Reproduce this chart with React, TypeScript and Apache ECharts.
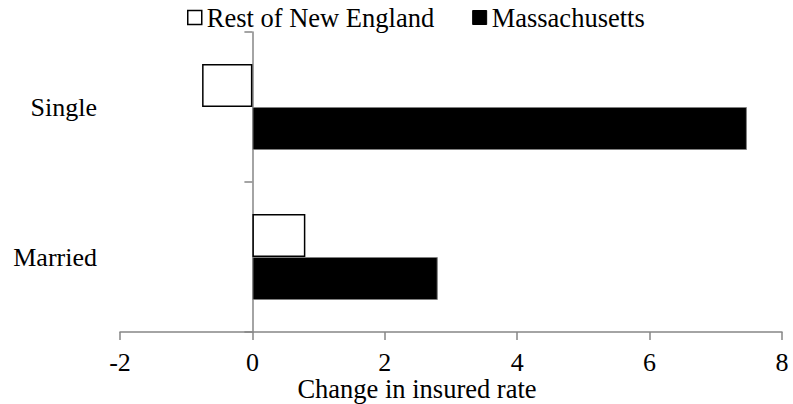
import React, { useEffect, useRef } from "react";
import * as echarts from "echarts";

const categories = ["Married", "Single"];
const restOfNewEngland = [0.8, -0.76];
const massachusetts = [2.8, 7.47];
const xTicks = { min: -2, max: 8, interval: 2 };
const xAxisTitle = "Change in insured rate";
const seriesNames = ["Rest of New England", "Massachusetts"];

const FONT = "Liberation Serif, DejaVu Serif, serif";
const AXIS_GRAY = "#868686";

export default function App() {
  const ref = useRef<HTMLDivElement>(null);
  useEffect(() => {
    document.body.style.margin = "0";
    const chart = echarts.init(ref.current!, null, { renderer: "svg" });
    chart.setOption({
      animation: false,
      backgroundColor: "#ffffff",
      textStyle: { fontFamily: FONT, color: "#000" },
      legend: {
        data: [
          { name: seriesNames[0], itemStyle: { color: "#fff", borderColor: "#000", borderWidth: 1.5 } },
          { name: seriesNames[1], itemStyle: { color: "#000", borderColor: "#000", borderWidth: 1 } },
        ],
        icon: "rect",
        left: 187,
        top: 4,
        padding: 0,
        itemWidth: 14,
        itemHeight: 14,
        itemGap: 38,
        textStyle: { fontFamily: FONT, fontSize: 26.5, color: "#000" },
      },
      grid: {
        left: 120,
        right: 11,
        top: 32,
        bottom: 72,
        containLabel: false,
        outerBoundsMode: "none",
      },
      xAxis: {
        type: "value",
        min: xTicks.min,
        max: xTicks.max,
        interval: xTicks.interval,
        axisLine: { show: true, lineStyle: { color: AXIS_GRAY, width: 1.5 } },
        axisTick: { show: true, length: 8, lineStyle: { color: AXIS_GRAY, width: 1.5 } },
        splitLine: { show: false },
        axisLabel: {
          fontFamily: FONT,
          fontSize: 26,
          lineHeight: 18,
          color: "#000",
          margin: 21,
        },
      },
      yAxis: {
        type: "category",
        data: categories,
        axisLine: { show: true, onZero: true, lineStyle: { color: AXIS_GRAY, width: 1.5 } },
        axisTick: { show: true, length: 8, lineStyle: { color: AXIS_GRAY, width: 1.5 } },
        axisLabel: { fontFamily: FONT, fontSize: 26, color: "#000", margin: 23 },
        splitLine: { show: false },
      },
      graphic: [
        {
          type: "text",
          x: 417,
          y: 389,
          style: {
            text: xAxisTitle,
            fontFamily: FONT,
            fontSize: 26.5,
            lineHeight: 22,
            fill: "#000",
            textAlign: "center",
            textVerticalAlign: "middle",
          },
        },
      ],
      series: [
        {
          name: seriesNames[0],
          type: "bar",
          data: restOfNewEngland,
          barWidth: 43,
          barGap: "0%",
          itemStyle: { color: "#fff", borderColor: "#000", borderWidth: 1.5 },
        },
        {
          name: seriesNames[1],
          type: "bar",
          data: massachusetts,
          barWidth: 43,
          barGap: "0%",
          itemStyle: { color: "#000", borderColor: "#7f7f7f", borderWidth: 1 },
        },
      ],
    });
    return () => chart.dispose();
  }, []);
  return (
    <div
      ref={ref}
      style={{ position: "fixed", left: 0, top: 0, width: 793, height: 404 }}
    />
  );
}
